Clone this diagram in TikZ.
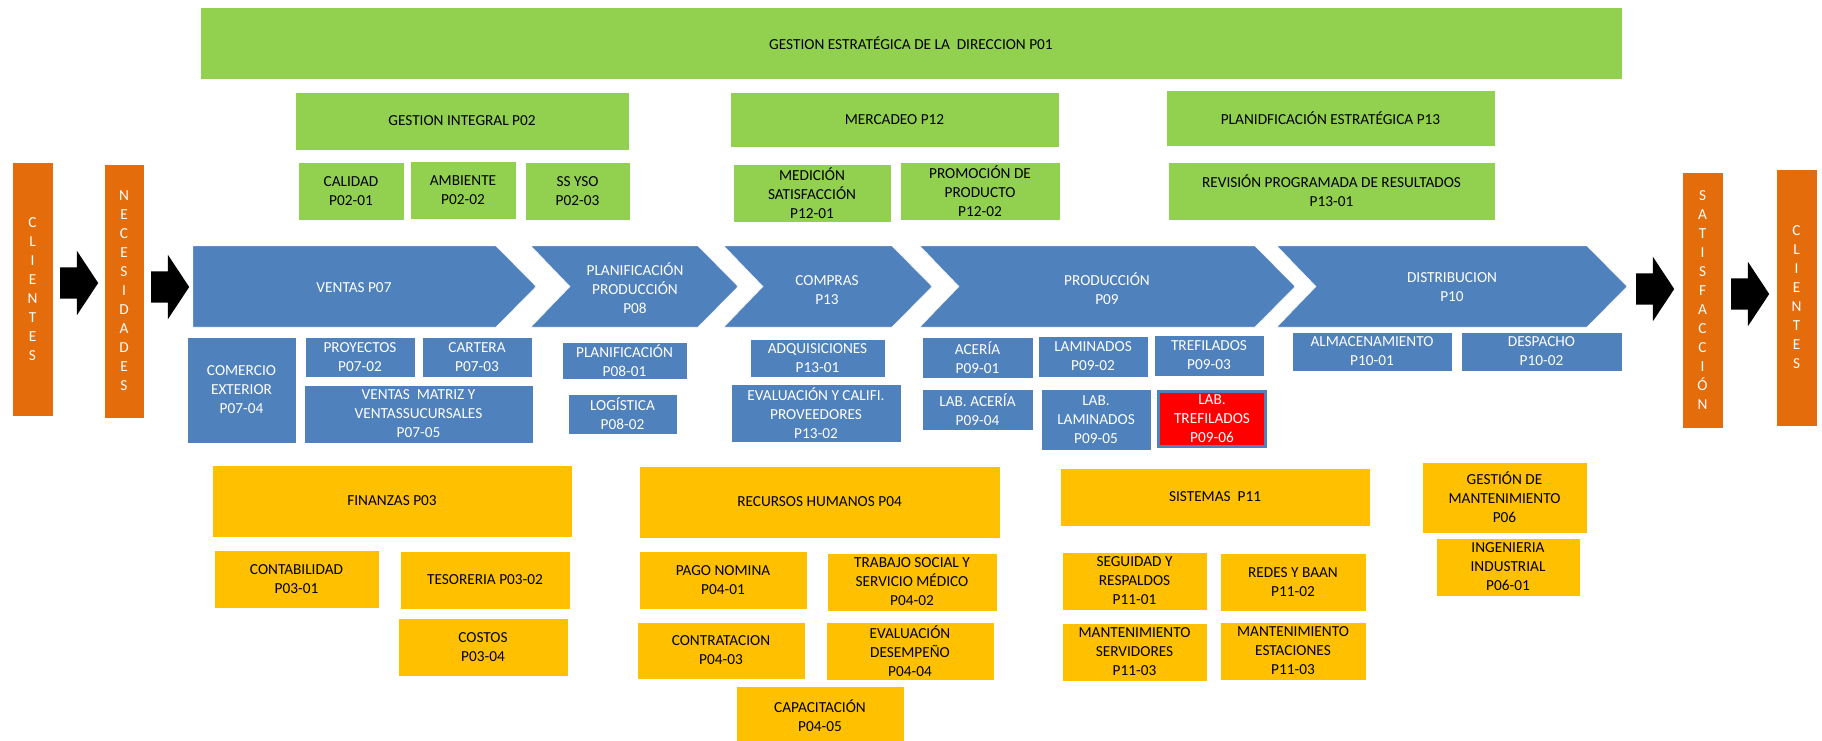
\documentclass[tikz,border=0pt]{standalone}
\usepackage{fontspec}
\setmainfont{Carlito}
\usetikzlibrary{shapes.arrows}
\definecolor{procgreen}{HTML}{92D050}
\definecolor{procblue}{HTML}{4F81BD}
\definecolor{procorange}{HTML}{E46C0A}
\definecolor{procyellow}{HTML}{FFC000}
\definecolor{procred}{HTML}{FF0000}

\begin{document}
\begin{tikzpicture}
  [x=1pt,y=-1pt,
   every node/.style={font=\fontsize{15.3}{19}\selectfont,align=center,inner sep=1pt},
   sz/.style 2 args={minimum width=#1,minimum height=#2},
   greenbox/.style={rectangle,fill=procgreen,draw=white,line width=.8pt,text=black},
   bluebox/.style={rectangle,fill=procblue,draw=white,line width=.8pt,text=white},
   redbox/.style={rectangle,fill=procred,draw=procblue,line width=3pt,text=white},
   yellowbox/.style={rectangle,fill=procyellow,draw=white,line width=.8pt,text=black},
   orangebar/.style={rectangle,fill=procorange,draw=white,line width=.8pt,text=white},
   chevtext/.style={text=white},
   blockarrow/.style={single arrow,fill=black,inner xsep=0pt,inner ysep=15.5pt,
     single arrow head extend=16.5pt,single arrow tip angle=113,minimum height=38pt}]
  \useasboundingbox (0,0) rectangle (1822,741);

  % process chain
  \filldraw[fill=procblue,draw=white] (193,246) -- (496,246) -- (536,286.5) -- (496,327) -- (193,327) -- cycle;
  \filldraw[fill=procblue,draw=white] (531,246) -- (698,246) -- (738,286.5) -- (698,327) -- (531,327) -- (570,286.5) -- cycle;
  \filldraw[fill=procblue,draw=white] (724,246) -- (892,246) -- (932,286.5) -- (892,327) -- (724,327) -- (763,286.5) -- cycle;
  \filldraw[fill=procblue,draw=white] (920,246) -- (1255,246) -- (1295,286.5) -- (1255,327) -- (920,327) -- (959,286.5) -- cycle;
  \filldraw[fill=procblue,draw=white] (1277,246) -- (1587,246) -- (1627,286.5) -- (1587,327) -- (1277,327) -- (1316,286.5) -- cycle;

  \node[chevtext] (ventas) at (354,288) {VENTAS P07};
  \node[chevtext] (planprod) at (635,288) {PLANIFICACIÓN\\PRODUCCIÓN\\P08};
  \node[chevtext] (compras) at (827,290) {COMPRAS\\P13};
  \node[chevtext] (produccion) at (1107,289) {PRODUCCIÓN\\P09};
  \node[chevtext] (distribucion) at (1452,287) {DISTRIBUCION\\P10};

  \node[greenbox,sz={1422}{72}] (p01) at (911,43) {GESTION ESTRATÉGICA DE LA\ \ DIRECCION P01};
  \node[greenbox,sz={334}{58}] (p02) at (462,121) {GESTION INTEGRAL P02};
  \node[greenbox,sz={106}{58}] (p0201) at (351,191) {CALIDAD\\P02-01};
  \node[greenbox,sz={106}{58}] (p0202) at (463,190) {AMBIENTE\\P02-02};
  \node[greenbox,sz={105}{58}] (p0203) at (577.5,191) {SS YSO\\P02-03};
  \node[greenbox,sz={329}{55}] (p12) at (894.5,119.5) {MERCADEO P12};
  \node[greenbox,sz={158}{58}] (p1201) at (812,193) {MEDICIÓN\\SATISFACCIÓN\\P12-01};
  \node[greenbox,sz={160}{58}] (p1202) at (980,191) {PROMOCIÓN DE\\PRODUCTO\\P12-02};
  \node[greenbox,sz={329}{56}] (p13) at (1330.5,118) {PLANIDFICACIÓN ESTRATÉGICA P13};
  \node[greenbox,sz={327}{58}] (p1301) at (1331.5,191) {REVISIÓN PROGRAMADA DE RESULTADOS\\P13-01};

  \node[bluebox,sz={109}{106}] (p0704) at (241.5,390) {COMERCIO\\EXTERIOR\\P07-04};
  \node[bluebox,sz={110}{40}] (p0702) at (360,357) {PROYECTOS\\P07-02};
  \node[bluebox,sz={110}{40}] (p0703) at (477,357) {CARTERA\\P07-03};
  \node[bluebox,sz={229}{58}] (p0705) at (418.5,414) {VENTAS\ \ MATRIZ Y\\VENTASSUCURSALES\\P07-05};
  \node[bluebox,sz={125}{37}] (p0801) at (624.5,360.5) {PLANIFICACIÓN\\P08-01};
  \node[bluebox,sz={109}{40}] (p0802) at (622.5,414) {LOGÍSTICA\\P08-02};
  \node[bluebox,sz={135}{38}] (adquis) at (817.5,358) {ADQUISICIONES\\P13-01};
  \node[bluebox,sz={170}{58}] (p1302) at (816,413) {EVALUACIÓN Y CALIFI.\\PROVEEDORES\\P13-02};
  \node[bluebox,sz={111}{41}] (p0901) at (977.5,357.5) {ACERÍA\\P09-01};
  \node[bluebox,sz={110}{41}] (p0902) at (1093,356.5) {LAMINADOS\\P09-02};
  \node[bluebox,sz={110}{41}] (p0903) at (1209,355.5) {TREFILADOS\\P09-03};
  \node[bluebox,sz={111}{41}] (p0904) at (977.5,409.5) {LAB. ACERÍA\\P09-04};
  \node[bluebox,sz={110}{61}] (p0905) at (1096,419.5) {LAB.\\LAMINADOS\\P09-05};
  \node[redbox,sz={107}{55}] (p0906) at (1212,419) {LAB.\\TREFILADOS\\P09-06};
  \node[bluebox,sz={160}{39}] (p1001) at (1372,351.5) {ALMACENAMIENTO\\P10-01};
  \node[bluebox,sz={161}{39}] (p1002) at (1541.5,351.5) {DESPACHO\\P10-02};

  \node[yellowbox,sz={360}{72}] (p03) at (392,501) {FINANZAS P03};
  \node[yellowbox,sz={361}{72}] (p04) at (819.5,502) {RECURSOS HUMANOS P04};
  \node[yellowbox,sz={165}{58}] (p0301) at (296.5,579) {CONTABILIDAD\\P03-01};
  \node[yellowbox,sz={170}{58}] (p0302) at (485,580) {TESORERIA P03-02};
  \node[yellowbox,sz={170}{58}] (p0304) at (483,647) {COSTOS\\P03-04};
  \node[yellowbox,sz={168}{58}] (p0401) at (723,580) {PAGO NOMINA\\P04-01};
  \node[yellowbox,sz={170}{58}] (p0402) at (912,582) {TRABAJO SOCIAL Y\\SERVICIO MÉDICO\\P04-02};
  \node[yellowbox,sz={168}{57}] (p0403) at (721,650.5) {CONTRATACION\\P04-03};
  \node[yellowbox,sz={168}{58}] (p0404) at (910,651) {EVALUACIÓN\\DESEMPEÑO\\P04-04};
  \node[yellowbox,sz={168}{59}] (p0405) at (820,715.5) {CAPACITACIÓN\\P04-05};
  \node[yellowbox,sz={310}{58}] (p11) at (1215,497) {SISTEMAS\ \ P11};
  \node[yellowbox,sz={145}{58}] (p1101) at (1134.5,581) {SEGUIDAD Y\\RESPALDOS\\P11-01};
  \node[yellowbox,sz={146}{58}] (p1102) at (1293,582) {REDES Y BAAN\\P11-02};
  \node[yellowbox,sz={145}{58}] (p1103) at (1134.5,652) {MANTENIMIENTO\\SERVIDORES\\P11-03};
  \node[yellowbox,sz={146}{58}] (p1104) at (1293,651) {MANTENIMIENTO\\ESTACIONES\\P11-03};
  \node[yellowbox,sz={165}{71}] (p06) at (1504.5,497.5) {GESTIÓN DE\\MANTENIMIENTO\\P06};
  \node[yellowbox,sz={144}{58}] (p0601) at (1508,567) {INGENIERIA\\INDUSTRIAL\\P06-01};

  \node[orangebar,sz={41}{254}] (clientesin) at (32.5,289) {C\\L\\I\\E\\N\\T\\E\\S};
  \node[orangebar,sz={40}{254}] (necesidades) at (124,291) {N\\E\\C\\E\\S\\I\\D\\A\\D\\E\\S};
  \node[orangebar,sz={41}{256}] (satisfaccion) at (1702.5,300) {S\\A\\T\\I\\S\\F\\A\\C\\C\\I\\Ó\\N};
  \node[orangebar,sz={41}{257}] (clientesout) at (1796.5,297.5) {C\\L\\I\\E\\N\\T\\E\\S};

  \node[blockarrow,anchor=tail] (arr1) at (60,283) {};
  \node[blockarrow,anchor=tail] (arr2) at (151,287) {};
  \node[blockarrow,anchor=tail] (arr3) at (1636,289) {};
  \node[blockarrow,anchor=tail] (arr4) at (1731,294) {};
\end{tikzpicture}
\end{document}
